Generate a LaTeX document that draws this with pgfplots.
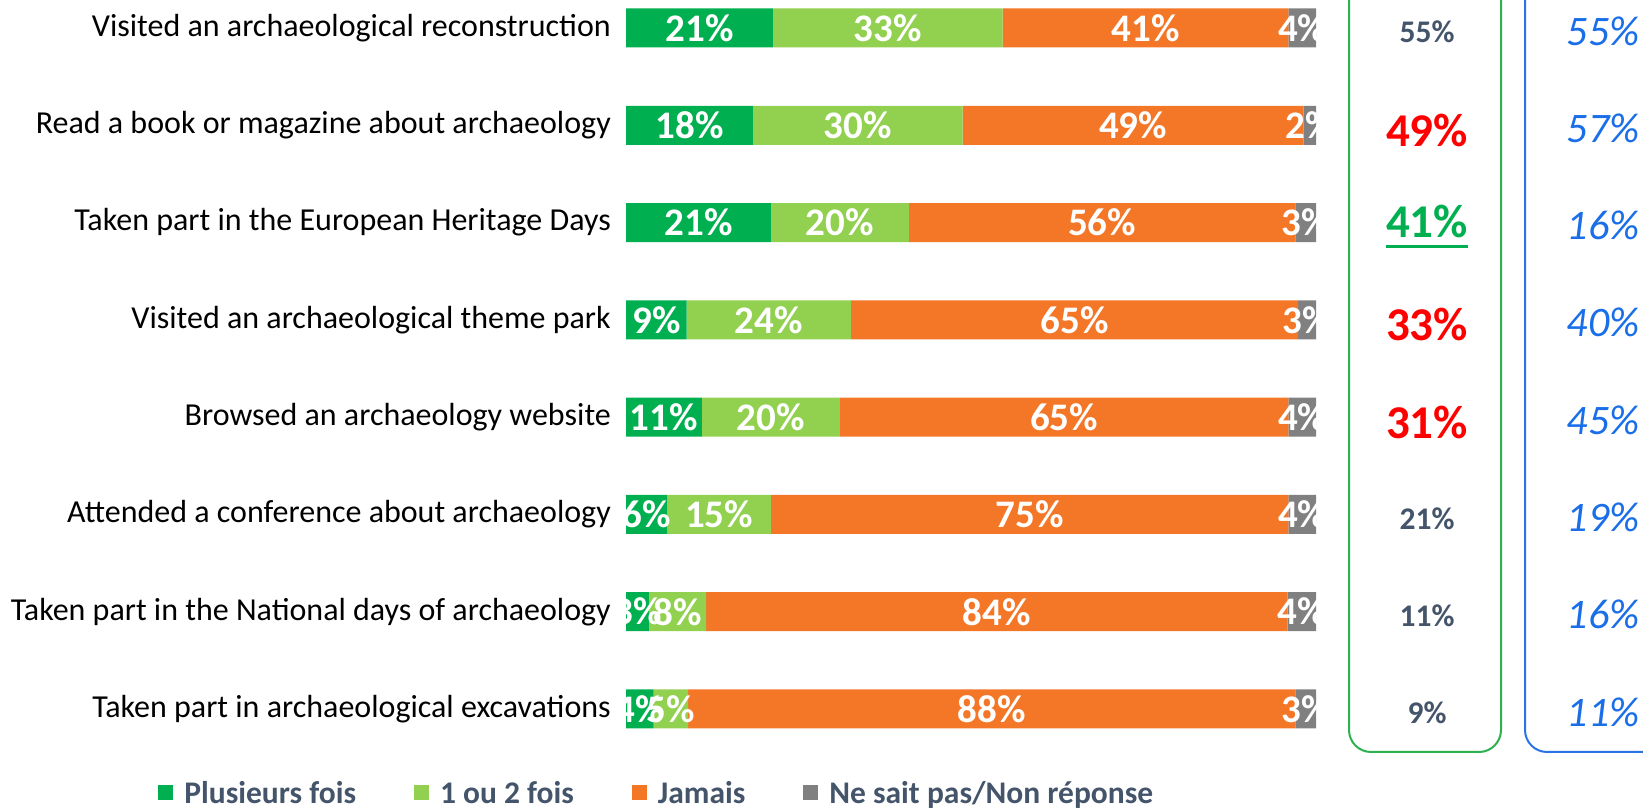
\documentclass[border=0pt]{standalone}
\usepackage{pgfplots}
\pgfplotsset{compat=1.18}
\usepackage{pgfplotstable}
\usepackage{fontspec}
\setmainfont{Carlito}
\definecolor{dgreen}{HTML}{00B050}
\definecolor{lgreen}{HTML}{92D050}
\definecolor{jorange}{HTML}{F47727}
\definecolor{ngrey}{HTML}{808080}
\definecolor{slate}{HTML}{44546A}
\definecolor{pred}{HTML}{FF0000}
\definecolor{pblue}{HTML}{1A6FE8}
\definecolor{boxgreen}{HTML}{2DB150}
\definecolor{boxblue}{HTML}{2A72E6}
\newcommand\thickul[1]{\setbox0\hbox{#1}\leavevmode\rlap{\rule[-10pt]{\wd0}{3pt}}\box0}
\pgfplotsset{/pgf/number format/assume math mode=true}

\pgfplotstableread{
y a b c d
7 21.3 33.3 41.4 4.0
6 18.4 30.4 49.4 1.8
5 21 20 56 3
4 8.8 23.8 64.8 2.6
3 11 20 65 4
2 6 15 75 4
1 3.3 8.3 84.3 4.1
0 4 5 88 3
}\bars

\begin{document}
\begin{tikzpicture}
\path[use as bounding box] (0pt,0pt) rectangle (1643pt,808pt);
\draw[boxgreen, line width=2pt, rounded corners=22pt] (1349pt,56pt) rectangle (1501pt,840pt);
\draw[boxblue, line width=2pt, rounded corners=22pt] (1525pt,56pt) rectangle (1720pt,840pt);
\begin{axis}[
  at={(626pt,99pt)}, anchor=south west,
  scale only axis, width=690pt, height=681pt,
  xbar stacked, bar width=39pt,
  xmin=0, xmax=100, ymin=0, ymax=7,
  clip=false,
  axis line style={draw=none},
  xtick=\empty,
  ytick={0,...,7},
  yticklabels={Taken part in archaeological excavations, Taken part in the National days of archaeology, Attended a conference about archaeology, Browsed an archaeology website, Visited an archaeological theme park, Taken part in the European Heritage Days, Read a book or magazine about archaeology, Visited an archaeological reconstruction},
  major tick length=0pt,
  yticklabel style={font=\fontsize{32}{36}\selectfont, text=black, anchor=east, inner sep=0pt, xshift=-15pt},
  every axis plot post/.append style={legend image code/.code={\fill[##1] (0pt,-7.5pt) rectangle (15pt,7.5pt);}},
  legend style={at={(-0.678,-0.1233)}, anchor=west, draw=none, fill=none, inner sep=0pt, legend columns=4, font=\fontsize{31.5}{36}\selectfont\bfseries, text=slate, nodes={inner sep=0pt}, /tikz/every even column/.append style={column sep=58pt}, /tikz/every odd column/.append style={column sep=11pt}},
  point meta=explicit,
  nodes near coords={\pgfmathprintnumber[fixed,precision=0]{\pgfplotspointmeta}\%},
  every node near coord/.append style={anchor=center, font=\fontsize{39}{44}\selectfont\bfseries, text=white},
]
\addplot[fill=dgreen, draw=none] table[x=a, y=y, meta=a] {\bars};
\addplot[fill=lgreen, draw=none] table[x=b, y=y, meta=b] {\bars};
\addplot[fill=jorange, draw=none] table[x=c, y=y, meta=c] {\bars};
\addplot[fill=ngrey, draw=none] table[x=d, y=y, meta=d] {\bars};
\legend{Plusieurs fois, 1 ou 2 fois, Jamais, Ne sait pas/Non réponse}
\end{axis}
\begin{axis}[at={(0pt,99pt)}, anchor=south west, scale only axis, width=1643pt, height=681pt,
  xmin=0, xmax=1643, ymin=0, ymax=7, hide axis, clip=false, point meta=explicit,
  nodes near coords={\pgfmathprintnumber{\pgfplotspointmeta}\%}]
\addplot[only marks, mark=none, every node near coord/.append style={anchor=center, yshift=-4pt, font=\fontsize{31.5}{36}\selectfont\bfseries, text=slate}] coordinates {(1427,7) [55] (1427,2) [21] (1427,1) [11] (1427,0) [9]};
\addplot[only marks, mark=none, every node near coord/.append style={anchor=center, yshift=-5pt, font=\fontsize{47}{54}\selectfont\bfseries, text=pred}] coordinates {(1427,6) [49] (1427,4) [33] (1427,3) [31]};
\addplot[only marks, mark=none, nodes near coords={\thickul{\pgfmathprintnumber{\pgfplotspointmeta}\%}}, every node near coord/.append style={anchor=base, yshift=-15pt, font=\fontsize{47}{54}\selectfont\bfseries, text=dgreen}] coordinates {(1427,5) [41]};
\addplot[only marks, mark=none, every node near coord/.append style={anchor=center, yshift=-3pt, font=\fontsize{42}{48}\selectfont\itshape, text=pblue}] coordinates {(1603,7) [55] (1603,6) [57] (1603,5) [16] (1603,4) [40] (1603,3) [45] (1603,2) [19] (1603,1) [16] (1603,0) [11]};
\end{axis}
\end{tikzpicture}
\end{document}
